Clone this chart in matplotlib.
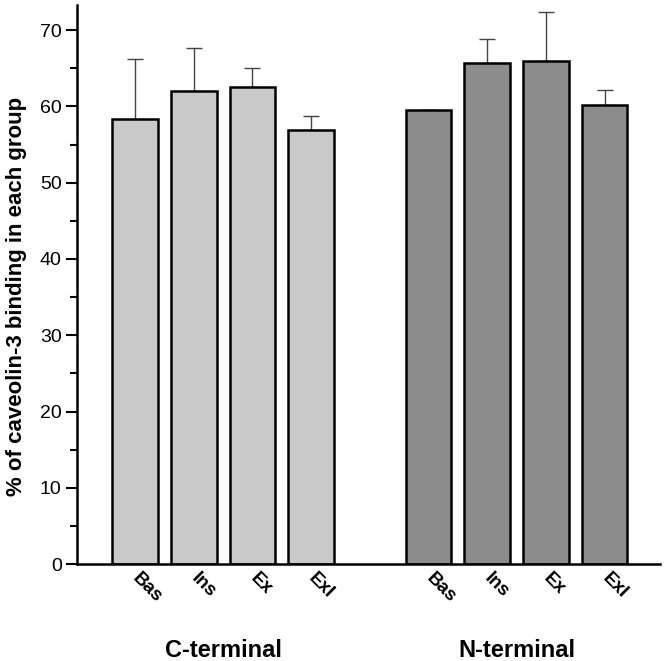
import matplotlib.pyplot as plt
from matplotlib.ticker import MultipleLocator
import matplotlib.transforms as mtransforms
import numpy as np

plt.rcParams['font.family'] = ['Liberation Sans', 'DejaVu Sans']

conditions = ['Bas', 'Ins', 'Ex', 'Exl']
groups = ['C-terminal', 'N-terminal']
c_means = [58.4, 62.0, 62.6, 56.9]
c_err = [7.8, 5.7, 2.4, 1.8]
n_means = [59.5, 65.7, 65.9, 60.2]
n_err = [0.1, 3.2, 6.5, 1.9]

fig = plt.figure(figsize=(6.66, 6.61), dpi=100)
ax = fig.add_axes([0.1156, 0.1467, 0.875, 0.8457])

c_x = np.arange(4)
n_x = np.arange(4) + 5
w = 0.78

ax.bar(c_x, c_means, width=w, color='#c9c9c9', edgecolor='black', linewidth=1.8,
       zorder=2)
ax.bar(n_x, n_means, width=w, color='#8c8c8c', edgecolor='black', linewidth=1.8,
       zorder=2)
ax.errorbar(c_x, c_means, yerr=[np.zeros(4), c_err], fmt='none', ecolor='#444444',
            elinewidth=1.0, capsize=6, capthick=1.0, zorder=1)
ax.errorbar(n_x, n_means, yerr=[np.zeros(4), n_err], fmt='none', ecolor='#444444',
            elinewidth=1.0, capsize=6, capthick=1.0, zorder=1)

ax.set_xlim(-0.99, 8.94)
ax.set_ylim(0, 73.3)

ax.spines['top'].set_visible(False)
ax.spines['right'].set_visible(False)
ax.spines['left'].set_linewidth(1.8)
ax.spines['bottom'].set_linewidth(1.8)

ax.yaxis.set_major_locator(MultipleLocator(10))
ax.yaxis.set_minor_locator(MultipleLocator(5))
ax.tick_params(axis='y', which='major', length=8, width=1.5, labelsize=14, pad=3)
ax.tick_params(axis='y', which='minor', length=5, width=1.5)

ax.set_xticks(np.concatenate([c_x, n_x]))
ax.set_xticklabels(conditions + conditions, rotation=-45, ha='left', va='top',
                   rotation_mode='anchor', fontsize=13.5, fontweight='bold')
ax.tick_params(axis='x', length=0, pad=4)
shift = mtransforms.ScaledTranslation(0.06, 0, fig.dpi_scale_trans)
for lab in ax.get_xticklabels():
    lab.set_transform(lab.get_transform() + shift)

ax.set_ylabel('% of caveolin-3 binding in each group', fontsize=16,
              fontweight='bold')
ax.yaxis.set_label_coords(-0.086, 0.478)

ax.text(1.5, -11.3, groups[0], ha='center', va='center', fontsize=17,
        fontweight='bold')
ax.text(6.5, -11.3, groups[1], ha='center', va='center', fontsize=17,
        fontweight='bold')

fig.savefig('out.png', dpi=100)
